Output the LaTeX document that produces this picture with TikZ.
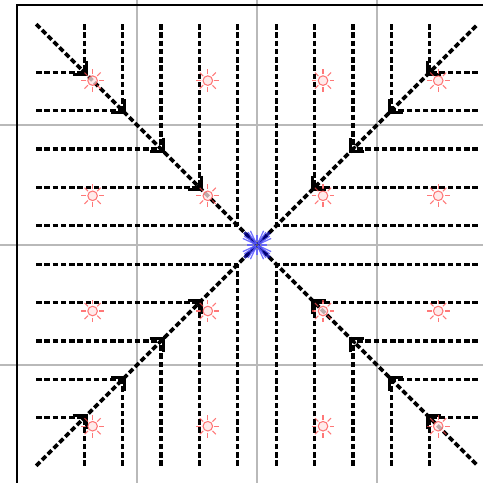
\documentclass[tikz,border=0pt]{standalone}
\usetikzlibrary{arrows.meta}
\begin{document}
\begin{tikzpicture}[x=1cm,y=1cm,
  flow/.style={line width=0.78pt, dash pattern=on 1.3pt off 0.65pt},
  gridline/.style={gray!55, line width=0.25pt},
  frameline/.style={black, line width=0.6pt},
  headtip/.style={-{Straight Barb[length=0.8mm,width=1.6mm,line width=0.7pt]}, line width=0.7pt},
  sunmark/.style={red!70, line width=0.25pt, opacity=0.75},
  starmark/.style={blue!65, line width=0.3pt, opacity=0.85}]
\useasboundingbox (-2.1417,-1.975) rectangle (1.8833,2.0417);
\fill[white] (-2.1417,-1.975) rectangle (1.8833,2.0417);
\clip (-2.1417,-1.975) rectangle (1.8833,2.0417);
% grid
\foreach \g in {-1,0,1} {
  \draw[gridline] (\g,-2.2) -- (\g,2.2);
  \draw[gridline] (-2.2,\g) -- (2.2,\g);
}
% frame
\draw[frameline] (-2,-2.2) -- (-2,2) -- (2.2,2);
\def\L{1.84}
% streamlines
\foreach \d in {0.16,0.48,0.8,1.12,1.44} {
  \draw[flow] (-\d,\L) -- (-\d,\d);
  \draw[flow] (\d,\L) -- (\d,\d);
  \draw[flow] (-\d,-\L) -- (-\d,-\d);
  \draw[flow] (\d,-\L) -- (\d,-\d);
  \draw[flow] (-\L,\d) -- (-\d,\d);
  \draw[flow] (-\L,-\d) -- (-\d,-\d);
  \draw[flow] (\L,\d) -- (\d,\d);
  \draw[flow] (\L,-\d) -- (\d,-\d);
}
\draw[flow, line width=0.85pt] (-\L,\L) -- (\L,-\L);
\draw[flow, line width=0.85pt] (-\L,-\L) -- (\L,\L);
% arrowheads on the diagonals, pointing to the centre
\foreach \d in {0.48,0.8,1.12,1.44} {
  \coordinate (ul) at ({-\d+0.03},{\d-0.03});
  \coordinate (ur) at ({\d-0.03},{\d-0.03});
  \coordinate (ll) at ({-\d+0.03},{-\d+0.03});
  \coordinate (lr) at ({\d-0.03},{-\d+0.03});
  \draw[headtip] ({-\d-0.02},{\d+0.02}) -- (ul);
  \draw[headtip] ({\d+0.02},{\d+0.02}) -- (ur);
  \draw[headtip] ({-\d-0.02},{-\d-0.02}) -- (ll);
  \draw[headtip] ({\d+0.02},{-\d-0.02}) -- (lr);
}
% red suns
\foreach \a in {-1.44,-0.48,0.48,1.44} {
  \foreach \b in {-1.44,-0.48,0.48,1.44} {
    \begin{scope}[shift={({\a+0.07},{\b-0.07})}]
      \draw[sunmark, fill=red!10] (0,0) circle (0.04);
      \foreach \t in {0,45,...,315}
        \draw[sunmark] (\t:0.055) -- (\t:0.095);
    \end{scope}
  }
}
% blue star at the centre
\foreach \t in {45,135,225,315} {
  \draw[starmark, line width=0.7pt, blue!55!black] (0,0) -- (\t:0.15);
  \foreach \e in {-20,-10,10,20}
    \draw[starmark] (0,0) -- ({\t+\e}:0.13);
}
\foreach \t in {0,90,180,270}
  \draw[starmark] (\t:0.03) -- (\t:0.08);
\fill[gray!70!black] (0,0) circle (0.012);
\end{tikzpicture}
\end{document}
